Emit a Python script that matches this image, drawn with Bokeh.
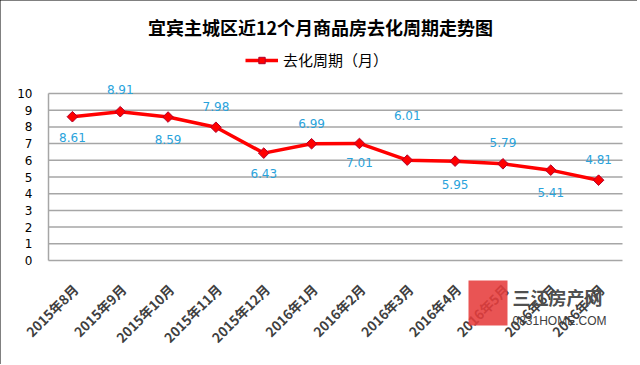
import math
from bokeh.plotting import figure
from bokeh.models import (ColumnDataSource, Legend, LegendItem, LabelSet,
                          Label, BoxAnnotation, Range1d)
from bokeh.core.properties import value
from bokeh.embed import file_html
from bokeh.resources import INLINE

months = ["2015年8月", "2015年9月", "2015年10月", "2015年11月", "2015年12月", "2016年1月",
          "2016年2月", "2016年3月", "2016年4月", "2016年5月", "2016年6月", "2016年7月"]
values = [8.61, 8.91, 8.59, 7.98, 6.43, 6.99, 7.01, 6.01, 5.95, 5.79, 5.41, 4.81]
y_ticks = [0, 1, 2, 3, 4, 5, 6, 7, 8, 9, 10]
series_name = "去化周期（月）"
title_text = "宜宾主城区近12个月商品房去化周期走势图"

# label placement (pixels, styling only)
label_dy = [-21, 22, -22, 21, -20, 20, -19, 45, -23, 21, -22, 21]

# ---- layout (pixels) ----
W, H = 637, 364
PLOT_L, PLOT_R = 48, 622      # plot-area edges
ZERO_Y = 260                  # pixel row of value 0
PX_PER_UNIT = 16.7            # vertical scale
n = len(months)
px_per_cat = (PLOT_R - PLOT_L) / n

x_start = -0.5 - PLOT_L / px_per_cat
x_end = (n - 0.5) + (W - PLOT_R) / px_per_cat
y_end = ZERO_Y / PX_PER_UNIT
y_start = -(H - ZERO_Y) / PX_PER_UNIT

def xs(px):
    return x_start + px / px_per_cat

def ys(py):
    return (ZERO_Y - py) / PX_PER_UNIT

idx = list(range(n))
src = ColumnDataSource(dict(i=idx, m=months, v=values,
                            t=[f"{v:.2f}" for v in values], dy=label_dy))
tick_src = ColumnDataSource(dict(y=y_ticks, t=[str(t) for t in y_ticks]))

p = figure(width=W, height=H, x_range=Range1d(x_start, x_end), y_range=Range1d(y_start, y_end),
           output_backend="svg", toolbar_location=None, title=None,
           x_axis_location=None, y_axis_location=None,
           min_border_left=0, min_border_right=0, min_border_top=0, min_border_bottom=0)
p.styles = {"outline": "2px solid #000000", "outline-offset": "-2px"}
p.outline_line_color = None
p.background_fill_color = "white"
p.border_fill_color = "white"
p.grid.visible = False

# horizontal gridlines at each value tick
p.segment(x0=-0.5, y0="y", x1=n - 0.5, y1="y", source=tick_src,
          line_color="#a6a6a6", line_width=1.5)
# value-axis line
p.segment(x0=-0.5, y0=y_ticks[0], x1=-0.5, y1=y_ticks[-1],
          line_color="#a6a6a6", line_width=1.5)
# value tick labels
p.text(x=-0.5, y="y", text="t", source=tick_src, x_offset=-16,
       text_align="right", text_baseline="middle",
       text_font=value("DejaVu Sans"), text_font_size="12px", text_color="#000000")

# category labels, rotated
p.text(x="i", y=0, text="m", source=src, angle=math.pi / 4,
       text_align="right", text_baseline="middle", x_offset=3, y_offset=26,
       text_font=value("Noto Sans CJK SC"), text_font_size="13.5px",
       text_font_style="bold", text_color="#404040")

line_r = p.line("i", "v", source=src, line_color="#ff0000", line_width=3.5)
pts_r = p.scatter("i", "v", source=src, marker="square", angle=math.pi / 4, size=7.5,
                  fill_color="#ff0000", line_color="#b0002a", line_width=1)

labels = LabelSet(x="i", y="v", text="t", y_offset="dy", source=src,
                  text_align="center", text_baseline="middle",
                  text_font=value("DejaVu Sans"), text_font_size="12px",
                  text_color="#2aa3dc")
p.add_layout(labels)

# title
p.add_layout(Label(x=xs(320), y=ys(26), text=title_text, text_align="center",
                   text_baseline="middle", text_font="Noto Sans CJK SC",
                   text_font_size="18px", text_font_style="bold", text_color="#000000"))

legend = Legend(items=[LegendItem(label=series_name, renderers=[line_r, pts_r])],
                orientation="horizontal", location=(245, H - 70),
                border_line_color=None, background_fill_alpha=0,
                label_text_font="Noto Sans CJK SC", label_text_font_size="15px",
                label_text_color="#000000", glyph_width=33, glyph_height=16,
                label_standoff=5, padding=2, margin=0)
p.add_layout(legend)

# watermark
p.add_layout(BoxAnnotation(left=xs(468), right=xs(507), top=ys(280), bottom=ys(325),
                           fill_color="#e63c3c", fill_alpha=0.88, line_color=None))
p.add_layout(Label(x=xs(512), y=ys(283), text="三江房产网", text_font="Noto Sans CJK SC",
                   text_font_size="18px", text_font_style="bold", text_color="#505050",
                   text_baseline="top"))
p.add_layout(Label(x=xs(512), y=ys(313), text="0831HOME.COM", text_font="Liberation Sans",
                   text_font_size="12px", text_color="#404040", text_baseline="top"))

open("out.html", "w").write(file_html(p, INLINE))
